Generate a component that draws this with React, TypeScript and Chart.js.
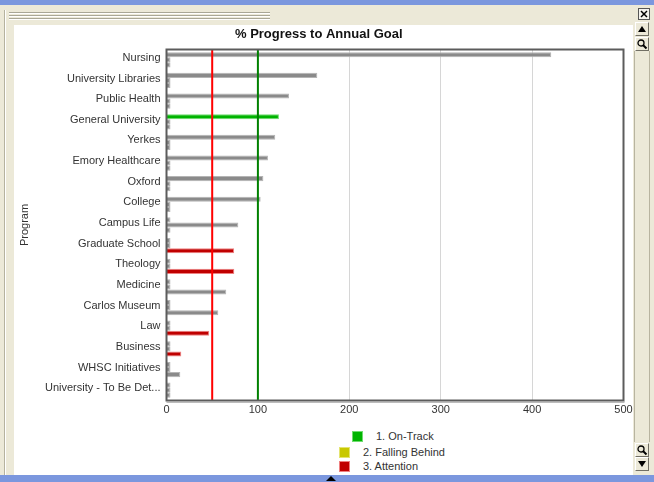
import React, { useEffect, useRef } from 'react';
import { Chart, registerables } from 'chart.js';

Chart.register(...registerables);

// ---- data ----
const programs = [
  'Nursing',
  'University Libraries',
  'Public Health',
  'General University',
  'Yerkes',
  'Emory Healthcare',
  'Oxford',
  'College',
  'Campus Life',
  'Graduate School',
  'Theology',
  'Medicine',
  'Carlos Museum',
  'Law',
  'Business',
  'WHSC Initiatives',
  'University - To Be Det...',
];
const onTrack = [421, 165, 134, 123, 119, 111, 106, 103, 0, 0, 0, 0, 0, 0, 0, 0, 0];
const fallingBehind = [0, 0, 0, 0, 0, 0, 0, 0, 78.6, 0, 0, 0, 0, 0, 0, 0, 0];
const attention = [0, 0, 0, 0, 0, 0, 0, 0, 0, 74, 74.2, 65.4, 56.7, 46.8, 16.2, 15.1, 0];
const highlighted = [false, false, false, true, false, false, false, false, false, true, true, false, false, true, true, false, false];
const statusLabels = ['1. On-Track', '2. Falling Behind', '3. Attention'];
const statusColors = ['#00b400', '#c8c800', '#c00000'];
const statusEdges = ['#70dc70', '#e4e470', '#ee8080'];
const referenceValues = [50, 100];
const referenceColors = ['#ff0000', '#008000'];
const xMin = 0;
const xMax = 500;
const xStep = 100;

const GREY = '#8a8a8a';
const GREY_EDGE = '#b4b4b4';
const FONT = '"Liberation Sans", Arial, Helvetica, sans-serif';

const overlayPlugin = {
  id: 'overlay',
  afterDatasetsDraw(chart: any) {
    const { ctx, chartArea, scales } = chart;
    const { left, top, right, bottom } = chartArea;
    const x = scales.x;
    ctx.save();
    referenceValues.forEach((v, i) => {
      const px = x.getPixelForValue(v);
      ctx.strokeStyle = referenceColors[i];
      ctx.lineWidth = 2;
      ctx.beginPath();
      ctx.moveTo(px, top);
      ctx.lineTo(px, bottom);
      ctx.stroke();
    });
    ctx.strokeStyle = '#5c5c5c';
    ctx.lineWidth = 2;
    ctx.strokeRect(left, top, right - left, bottom - top);
    ctx.strokeStyle = '#a6a6a6';
    ctx.lineWidth = 1.5;
    ctx.beginPath();
    ctx.moveTo(left, bottom + 1.6);
    ctx.lineTo(right + 1, bottom + 1.6);
    ctx.stroke();
    ctx.restore();
  },
};

function ChartCanvas() {
  const ref = useRef<HTMLCanvasElement | null>(null);
  useEffect(() => {
    if (!ref.current) return;
    const series = [onTrack, fallingBehind, attention];
    const chart = new Chart(ref.current, {
      type: 'bar',
      data: {
        labels: programs,
        datasets: series.map((vals, s) => ({
          label: statusLabels[s],
          data: vals,
          backgroundColor: vals.map((v, i) => (v > 0 && highlighted[i] ? statusColors[s] : GREY)),
          borderColor: vals.map((v, i) => (v > 0 && highlighted[i] ? statusEdges[s] : GREY_EDGE)),
          borderWidth: 1,
          minBarLength: 4,
          categoryPercentage: 0.74,
          barPercentage: 1.0,
        })),
      },
      options: {
        indexAxis: 'y',
        responsive: false,
        animation: false,
        devicePixelRatio: 1,
        layout: { padding: { left: 0, right: 9.5, top: 0, bottom: 0 } },
        plugins: {
          legend: { display: false },
          tooltip: { enabled: false },
          title: {
            display: true,
            text: '% Progress to Annual Goal',
            color: '#111',
            font: { family: FONT, size: 13, weight: 'bold' },
            padding: { top: 1.8, bottom: 7.1 },
          },
        },
        scales: {
          x: {
            type: 'linear',
            min: xMin,
            max: xMax,
            ticks: { stepSize: xStep, color: '#333', font: { family: FONT, size: 11 }, padding: 3 },
            grid: { color: '#d6d6d6', drawTicks: false },
            border: { display: false },
            afterFit: (s: any) => {
              s.height = 24.5;
              s.paddingLeft = 0;
              s.paddingRight = 0;
            },
          },
          y: {
            type: 'category',
            ticks: {
              color: '#333',
              font: { family: FONT, size: 11 },
              padding: 6,
              labelOffset: -2,
              autoSkip: false,
            },
            grid: { display: false, drawTicks: false },
            border: { display: false },
            title: {
              display: true,
              text: 'Program',
              color: '#333',
              font: { family: FONT, size: 11 },
              padding: { top: 4, bottom: 0 },
            },
            afterFit: (s: any) => {
              s.width = 152.5;
              s.paddingTop = 0;
              s.paddingBottom = 0;
            },
          },
        },
      } as any,
      plugins: [overlayPlugin],
    });
    return () => chart.destroy();
  }, []);
  return <canvas ref={ref} width={619} height={400} style={{ position: 'absolute', left: 0, top: 0 }} />;
}

const btnStyle = (top: number): React.CSSProperties => ({
  position: 'absolute',
  left: 635,
  top,
  width: 14,
  height: 14,
  boxSizing: 'border-box',
  background: '#ECE9D8',
  borderTop: '1px solid #ffffff',
  borderLeft: '1px solid #ffffff',
  borderRight: '1px solid #716F64',
  borderBottom: '1px solid #716F64',
});

const Magnifier = () => (
  <svg width="12" height="12" style={{ position: 'absolute', left: 0, top: 0 }}>
    <circle cx="5" cy="5" r="3" fill="none" stroke="#000" strokeWidth="1.3" />
    <line x1="7" y1="7" x2="10.5" y2="10.5" stroke="#000" strokeWidth="2" />
  </svg>
);

export default function App() {
  return (
    <div
      style={{
        position: 'fixed',
        left: 0,
        top: 0,
        width: 654,
        height: 482,
        background: '#ECE9D8',
        overflow: 'hidden',
        fontFamily: FONT,
      }}
    >
      {/* top bar */}
      <div style={{ position: 'absolute', left: 0, top: 0, width: 654, height: 5, background: '#7B97DE' }} />
      {/* grip lines */}
      {[12, 15, 18].map((y) => (
        <React.Fragment key={y}>
          <div style={{ position: 'absolute', left: 9, top: y, width: 261, height: 1, background: '#a9a796' }} />
          <div style={{ position: 'absolute', left: 9, top: y + 1, width: 261, height: 1, background: '#ffffff' }} />
        </React.Fragment>
      ))}
      {/* left rule */}
      <div style={{ position: 'absolute', left: 4, top: 10, width: 1, height: 465, background: '#b5b29f' }} />
      <div style={{ position: 'absolute', left: 5, top: 10, width: 1, height: 465, background: '#ffffff' }} />
      {/* white panel */}
      <div style={{ position: 'absolute', left: 14, top: 25, width: 619, height: 450, background: '#ffffff' }}>
        <ChartCanvas />
      </div>
      {/* legend */}
      {statusLabels.map((lab, i) => {
        const left = i === 0 ? 352 : 339;
        const top = [431, 447, 461][i];
        return (
          <React.Fragment key={lab}>
            <div
              style={{
                position: 'absolute',
                left,
                top,
                width: 11,
                height: 11,
                boxSizing: 'border-box',
                background: statusColors[i],
                border: `1px solid ${statusEdges[i]}`,
              }}
            />
            <div
              style={{
                position: 'absolute',
                left: left + 24,
                top: top - 1,
                fontSize: 11,
                lineHeight: '13px',
                color: '#333',
                whiteSpace: 'nowrap',
              }}
            >
              {lab}
            </div>
          </React.Fragment>
        );
      })}
      {/* right controls */}
      <svg width="12" height="12" style={{ position: 'absolute', left: 638, top: 8 }}>
        <rect x="0.5" y="0.5" width="11" height="11" fill="#f4f3ee" stroke="#555" />
        <line x1="3" y1="3" x2="9" y2="9" stroke="#000" strokeWidth="1.5" />
        <line x1="9" y1="3" x2="3" y2="9" stroke="#000" strokeWidth="1.5" />
      </svg>
      <div style={btnStyle(22)}>
        <svg width="12" height="12" style={{ position: 'absolute', left: 0, top: 0 }}>
          <polygon points="6,3 10,9 2,9" fill="#000" />
        </svg>
      </div>
      <div style={btnStyle(37)}>
        <Magnifier />
      </div>
      <div
        style={{
          position: 'absolute',
          left: 634,
          top: 51,
          width: 16,
          height: 391,
          boxSizing: 'border-box',
          borderLeft: '1px solid #b8b4a0',
          borderRight: '1px solid #b8b4a0',
        }}
      />
      <div style={btnStyle(443)}>
        <Magnifier />
      </div>
      <div style={btnStyle(457)}>
        <svg width="12" height="12" style={{ position: 'absolute', left: 0, top: 0 }}>
          <polygon points="2,3 10,3 6,9" fill="#000" />
        </svg>
      </div>
      {/* bottom bar */}
      <div style={{ position: 'absolute', left: 0, top: 475, width: 654, height: 7, background: '#7B97DE' }} />
      <svg width="10" height="6" style={{ position: 'absolute', left: 326, top: 476 }}>
        <polygon points="5,0 10,5 0,5" fill="#000" />
      </svg>
    </div>
  );
}
